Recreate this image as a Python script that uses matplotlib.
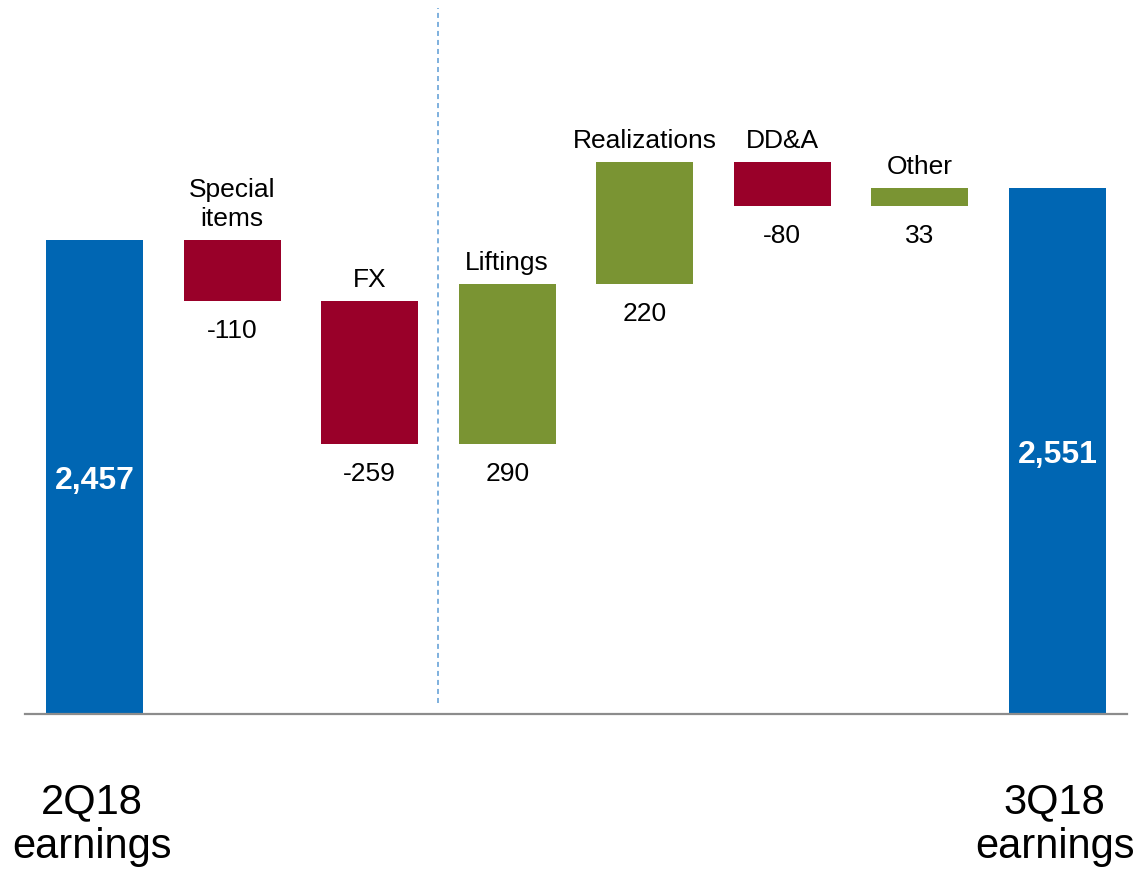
import matplotlib.pyplot as plt

plt.rcParams['font.family'] = ['Liberation Sans', 'DejaVu Sans']

# data
start_label = '2Q18\nearnings'
end_label = '3Q18\nearnings'
start_value = 2457
end_value = 2551
step_names = ['Special\nitems', 'FX', 'Liftings', 'Realizations', 'DD&A', 'Other']
step_values = [-110, -259, 290, 220, -80, 33]

blue = '#0066b3'
red = '#990029'
green = '#7a9433'

fig = plt.figure(figsize=(11.39, 8.72), dpi=100)
ax = fig.add_axes([25 / 1139, 158 / 872, 1102 / 1139, 714 / 872])

width = 0.705

# start bar
ax.bar(0, start_value - 1600, bottom=1600, width=width, color=blue)
ax.annotate(f'{start_value:,}', (0, (start_value + 1600) / 2), xytext=(0, -3),
            textcoords='offset points', ha='center', va='center',
            fontsize=23, fontweight='bold', color='white')

# steps
running = start_value
for i, (name, val) in enumerate(zip(step_names, step_values), start=1):
    low = min(running, running + val)
    high = max(running, running + val)
    ax.bar(i, high - low, bottom=low, width=width,
           color=green if val > 0 else red)
    ax.annotate(name, (i, high), xytext=(0, 10), textcoords='offset points',
                ha='center', va='baseline', fontsize=19, linespacing=1.25)
    ax.annotate(str(val), (i, low), xytext=(0, -13), textcoords='offset points',
                ha='center', va='top', fontsize=19)
    running += val

# end bar
n = len(step_names) + 1
ax.bar(n, end_value - 1600, bottom=1600, width=width, color=blue)
ax.annotate(f'{end_value:,}', (n, (end_value + 1600) / 2), xytext=(0, -3),
            textcoords='offset points', ha='center', va='center',
            fontsize=23, fontweight='bold', color='white')

# category labels under the axis
for x, lab in [(0, start_label), (n, end_label)]:
    ax.annotate(lab, (x, 0), xycoords=('data', 'axes fraction'),
                xytext=(-2, -49), textcoords='offset points',
                ha='center', va='top', fontsize=30, linespacing=1.15,
                annotation_clip=False)

# divider
ax.axvline(2.5, ymin=11 / 714, ymax=706 / 714, color='#5b9bd5',
           lw=1.1, linestyle=(0, (3.3, 2.6)))

ax.set_xlim(-0.505, 7.505)
ax.set_ylim(1600, 1600 + 714 / 0.553)
for s in ['top', 'left', 'right']:
    ax.spines[s].set_visible(False)
ax.spines['bottom'].set_color('#8c8c8c')
ax.spines['bottom'].set_linewidth(1.6)
ax.set_xticks([])
ax.set_yticks([])

fig.savefig('out.png', dpi=100)
